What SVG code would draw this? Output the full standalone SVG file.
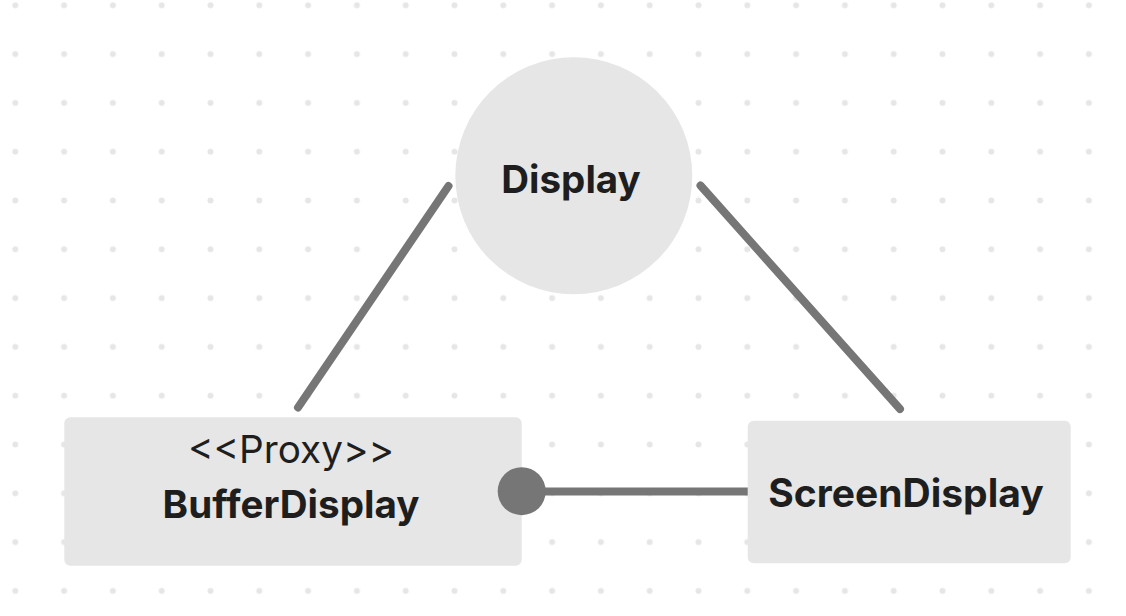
<svg xmlns="http://www.w3.org/2000/svg" width="1126" height="616" viewBox="0 0 1126 616">
  <style>
    .node { fill: #e6e6e6; }
    .edge { stroke: #767676; stroke-width: 8; stroke-linecap: round; fill: none; }
    .title { font-family: Inter, "Liberation Sans", sans-serif; font-weight: 700; fill: #1e1e1e; text-anchor: middle; }
    .stereo { font-family: Inter, "Liberation Sans", sans-serif; font-weight: 400; fill: #1e1e1e; text-anchor: middle; }
  </style>
  <defs>
    <pattern id="dots" x="-9.1" y="-19.1" width="48.8" height="48.8" patternUnits="userSpaceOnUse">
      <circle cx="24.4" cy="24.4" r="3" fill="#e6e6e6"/>
    </pattern>
  </defs>
  <rect width="1126" height="616" fill="#ffffff"/>
  <rect width="1126" height="616" fill="url(#dots)"/>

  <g id="connectors">
    <line class="edge" x1="448.5" y1="186" x2="298" y2="407.5"/>
    <line class="edge" x1="700.5" y1="185.5" x2="900" y2="409"/>
    <line class="edge" x1="521.7" y1="491.5" x2="757" y2="491.5"/>
  </g>

  <g id="node-display">
    <circle class="node" cx="573.8" cy="175.8" r="118.5"/>
    <text class="title" x="571" y="192.5" font-size="38.5">Display</text>
  </g>

  <g id="node-bufferdisplay">
    <rect class="node" x="64.3" y="417.3" width="457.4" height="148.4" rx="6"/>
    <text class="stereo" x="291" y="463.3" font-size="38.7">&lt;&lt;Proxy&gt;&gt;</text>
    <text class="title" x="291" y="518.3" font-size="38.6">BufferDisplay</text>
  </g>

  <g id="node-screendisplay">
    <rect class="node" x="747.7" y="420.7" width="323" height="142.6" rx="6"/>
    <text class="title" x="906" y="506.7" font-size="39">ScreenDisplay</text>
  </g>

  <g id="port">
    <circle cx="521.7" cy="491.2" r="24" fill="#767676"/>
  </g>
</svg>
